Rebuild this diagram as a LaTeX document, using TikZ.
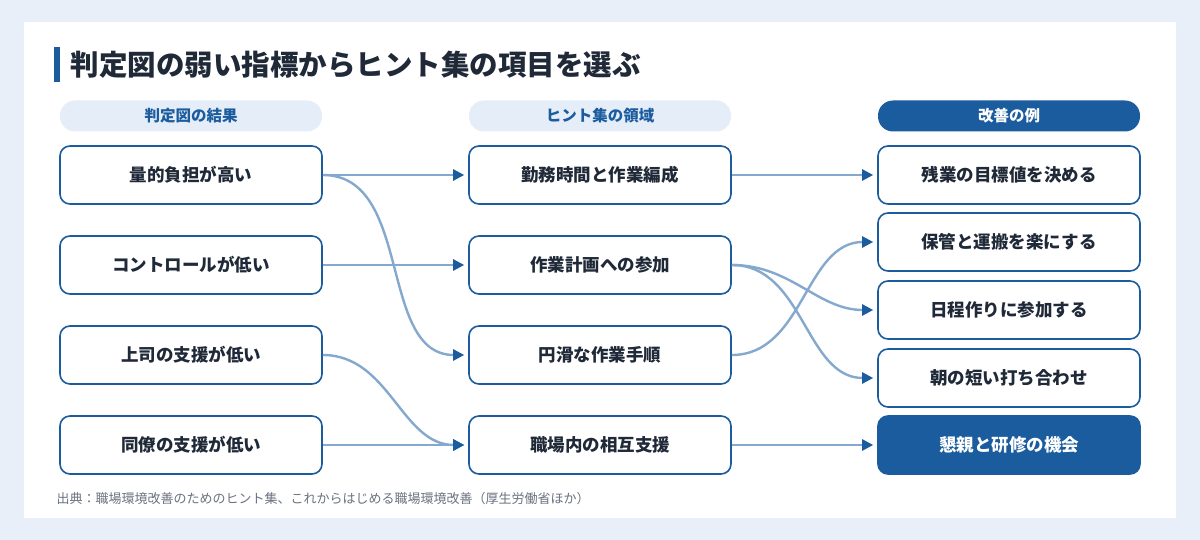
\documentclass[tikz,border=0pt]{standalone}
\usepackage{fontspec}
\setmainfont{Noto Sans CJK JP}
\usetikzlibrary{arrows.meta}

\definecolor{mainblue}{HTML}{1B5C9E}
\definecolor{lineblue}{HTML}{85A8CE}
\definecolor{pillblue}{HTML}{E4EDF8}
\definecolor{pagebg}{HTML}{E9EFF8}
\definecolor{inkdark}{HTML}{1F2937}
\definecolor{footgray}{HTML}{6B7280}

\begin{document}
\begin{tikzpicture}[x=1pt,y=-1pt,
    box/.style={draw=mainblue, line width=1.6pt, rounded corners=10pt, fill=white,
        minimum width=262pt, minimum height=58pt, text=inkdark,
        font=\bfseries\fontsize{17.5}{20}\selectfont},
    darkbox/.style={box, fill=mainblue, text=white},
    pill/.style={rounded corners=15pt, fill=pillblue, text=mainblue,
        minimum width=262pt, minimum height=31pt,
        font=\bfseries\fontsize{15.5}{18}\selectfont},
    darkpill/.style={pill, fill=mainblue, text=white},
    link/.style={draw=lineblue, line width=2.4pt, shorten >=4pt,
        -{Triangle[length=11pt,width=11pt,color=mainblue]}}]

    % page and card
    \fill[pagebg] (0,0) rectangle (1200,540);
    \useasboundingbox (0,0) rectangle (1200,540);
    \fill[white] (24,22) rectangle (1176,518);

    % title
    \fill[mainblue] (54,47) rectangle (60,82);
    \node[anchor=west, text=inkdark, font=\bfseries\fontsize{28.5}{33}\selectfont]
        (title) at (67,65) {判定図の弱い指標からヒント集の項目を選ぶ};

    % column heads
    \node[pill] (headL) at (191,116) {判定図の結果};
    \node[pill] (headM) at (600,116) {ヒント集の領域};
    \node[darkpill] (headR) at (1009,116) {改善の例};

    % left column
    \node[box] (load) at (191,175) {量的負担が高い};
    \node[box] (control) at (191,265) {コントロールが低い};
    \node[box] (boss) at (191,355) {上司の支援が低い};
    \node[box] (peer) at (191,445) {同僚の支援が低い};

    % middle column
    \node[box] (hours) at (600,175) {勤務時間と作業編成};
    \node[box] (plan) at (600,265) {作業計画への参加};
    \node[box] (steps) at (600,355) {円滑な作業手順};
    \node[box] (support) at (600,445) {職場内の相互支援};

    % right column
    \node[box] (overtime) at (1009,175) {残業の目標値を決める};
    \node[box] (storage) at (1009,242) {保管と運搬を楽にする};
    \node[box] (schedule) at (1009,310) {日程作りに参加する};
    \node[box] (meeting) at (1009,378) {朝の短い打ち合わせ};
    \node[darkbox] (training) at (1009,445) {懇親と研修の機会};

    % links left to middle
    \draw[link] (load.east) -- (hours.west);
    \draw[link] (load.east) to[out=0,in=180] (steps.west);
    \draw[link] (control.east) -- (plan.west);
    \draw[link] (boss.east) to[out=0,in=180] (support.west);
    \draw[link] (peer.east) -- (support.west);

    % links middle to right
    \draw[link] (hours.east) -- (overtime.west);
    \draw[link] (plan.east) to[out=0,in=180] (schedule.west);
    \draw[link] (plan.east) to[out=0,in=180] (meeting.west);
    \draw[link] (steps.east) to[out=0,in=180] (storage.west);
    \draw[link] (support.east) -- (training.west);

    % source
    \node[anchor=west, text=footgray, font=\fontsize{13}{15}\selectfont]
        (source) at (53,499) {出典：職場環境改善のためのヒント集、これからはじめる職場環境改善（厚生労働省ほか）};
\end{tikzpicture}
\end{document}
